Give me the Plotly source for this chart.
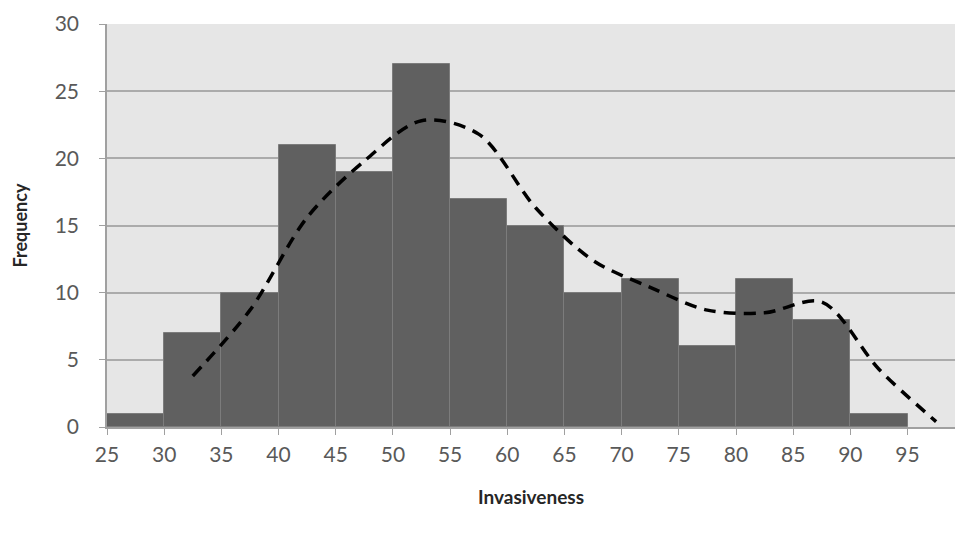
import plotly.graph_objects as go

# Histogram data
bin_left = [25, 30, 35, 40, 45, 50, 55, 60, 65, 70, 75, 80, 85, 90]
counts = [1, 7, 10, 21, 19, 27, 17, 15, 10, 11, 6, 11, 8, 1]
bin_width = 5

# Smoothed curve (dashed)
curve_x = [32.5, 37.5, 42.5, 47.5, 52.5, 57.5, 62.5, 67.5, 72.5, 77.5, 82.5, 87.5, 92.5, 97.5]
curve_y = [3.8, 8.7, 15.6, 19.8, 22.8, 21.8, 16.3, 12.4, 10.4, 8.7, 8.5, 9.3, 4.3, 0.4]

x_ticks = [25, 30, 35, 40, 45, 50, 55, 60, 65, 70, 75, 80, 85, 90, 95]
y_ticks = [0, 5, 10, 15, 20, 25, 30]

FONT = "Lato, 'Open Sans', sans-serif"

fig = go.Figure()
fig.add_trace(go.Bar(
    x=[b + bin_width / 2 for b in bin_left],
    y=counts,
    width=[bin_width] * len(bin_left),
    marker=dict(color="#606060", line=dict(color="#7c7c7c", width=1)),
    showlegend=False,
    hoverinfo="skip",
))
fig.add_trace(go.Scatter(
    x=curve_x, y=curve_y, mode="lines",
    line=dict(color="black", width=3.5, dash="12px,8px", shape="spline", smoothing=0.9),
    showlegend=False,
))

fig.update_layout(
    width=957, height=533,
    margin=dict(l=107, r=2, t=24, b=106),
    paper_bgcolor="white",
    plot_bgcolor="#e6e6e6",
    bargap=0,
    font=dict(family=FONT, color="#595959", size=21),
    xaxis=dict(
        range=[25, 99.15], automargin=False,
        tickmode="array", tickvals=x_ticks, ticktext=[str(v) for v in x_ticks],
        ticks="outside", ticklen=6, tickcolor="#a0a0a0", tickwidth=1,
        showgrid=False, zeroline=False,
        showline=True, linecolor="#a0a0a0", linewidth=1.5,
        ticklabelstandoff=2,
        title=dict(text="<b>Invasiveness</b>", font=dict(family=FONT, size=19, color="#262626"), standoff=26),
    ),
    yaxis=dict(
        range=[0, 30], automargin=False,
        tickmode="array", tickvals=y_ticks,
        ticks="outside", ticklen=6, tickcolor="#a0a0a0", tickwidth=1,
        showgrid=True, gridcolor="#ababab", gridwidth=1.5,
        zeroline=False,
        showline=True, linecolor="#a0a0a0", linewidth=1.5,
        ticklabelstandoff=16,
        title=dict(text="<b>Frequency</b>", font=dict(family=FONT, size=18, color="#262626"), standoff=22),
    ),
)

fig.write_html("out.html", config={"displayModeBar": False},
               post_script="document.body.style.margin='0px';")
